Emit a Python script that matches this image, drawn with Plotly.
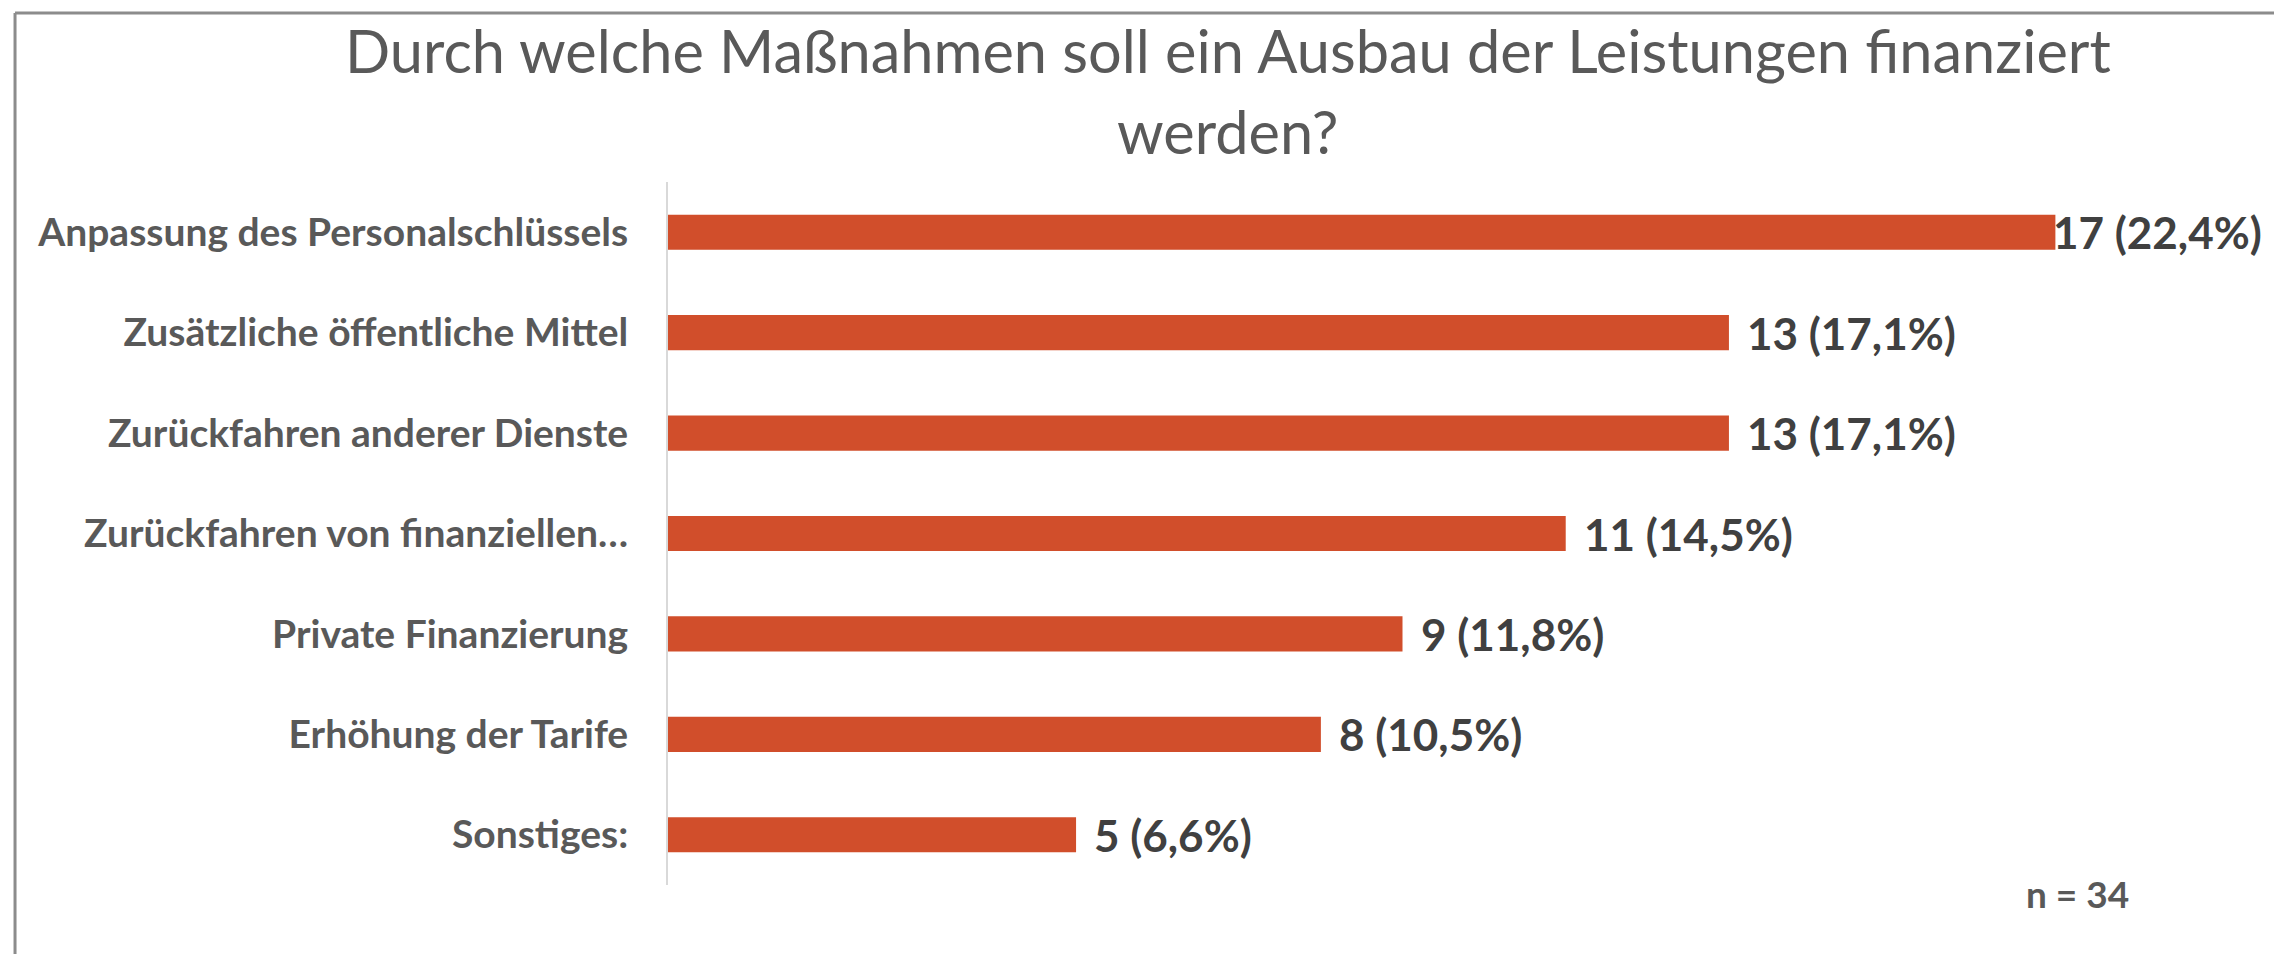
import plotly.graph_objects as go

# data
categories = ['Anpassung des Personalschlüssels',
              'Zusätzliche öffentliche Mittel',
              'Zurückfahren anderer Dienste',
              'Zurückfahren von finanziellen…',
              'Private Finanzierung',
              'Erhöhung der Tarife',
              'Sonstiges:']
counts = [17, 13, 13, 11, 9, 8, 5]
percents = ['22,4%', '17,1%', '17,1%', '14,5%', '11,8%', '10,5%', '6,6%']
n_total = 34

title_line1 = 'Durch welche Maßnahmen soll ein Ausbau der Leistungen finanziert'
title_line2 = 'werden?'

bar_color = '#D14E2B'
label_grey = '#595959'
value_grey = '#404040'

fig = go.Figure()

fig.add_trace(go.Bar(x=counts,
                     y=categories,
                     orientation='h',
                     width=0.35,
                     marker=dict(color=bar_color, line=dict(width=0)),
                     hoverinfo='skip',
                     showlegend=False))

# value labels right of the bars
for i, (c, cat, p) in enumerate(zip(counts, categories, percents)):
    fig.add_annotation(x=c, y=cat,
                       text=f'<b>{c} ({p})</b>',
                       xanchor='left',
                       xshift=-4 if i == 0 else 16,
                       showarrow=False,
                       font=dict(family='Lato', size=44, color=value_grey))

fig.add_annotation(x=0.9598, y=-0.0114, xref='paper', yref='paper',
                   text=f'<b>n = {n_total}</b>',
                   xanchor='center', yanchor='middle',
                   showarrow=False,
                   font=dict(family='Lato', size=37, color=label_grey))

# second title line
fig.add_annotation(x=0.3812, y=1.0725, xref='paper', yref='paper',
                   text=title_line2,
                   xanchor='center', yanchor='middle',
                   showarrow=False,
                   font=dict(family='Lato', size=59.5, color=label_grey))

# outer frame (left, top, right)
frame = dict(type='line', xref='paper', yref='paper',
             line=dict(color='#8C8C8C', width=3))
fig.add_shape(x0=-0.4445, x1=-0.4445, y0=-0.2, y1=1.2404, **frame)
fig.add_shape(x0=-0.4445, x1=1.0994, y0=1.2404, y1=1.2404, **frame)
fig.add_shape(x0=1.0994, x1=1.0994, y0=-0.2, y1=1.2404, **frame)

fig.update_layout(width=2282, height=954,
                  margin=dict(l=660, r=153, t=174, b=77, autoexpand=False),
                  plot_bgcolor='white',
                  paper_bgcolor='white',
                  title=dict(text=title_line1,
                             x=0.5346, xanchor='center',
                             y=0.9539, yanchor='middle',
                             font=dict(family='Lato', size=59.5, color=label_grey)),
                  xaxis=dict(range=[0, 18], visible=False, fixedrange=True),
                  yaxis=dict(autorange='reversed',
                             showline=True, linecolor='#D9D9D9', linewidth=2,
                             ticks='', ticklabelstandoff=30,
                             showgrid=False,
                             tickfont=dict(family='Lato', size=39, color=label_grey, weight='bold')),
                  bargap=0.65)

fig.write_html('out.html')
